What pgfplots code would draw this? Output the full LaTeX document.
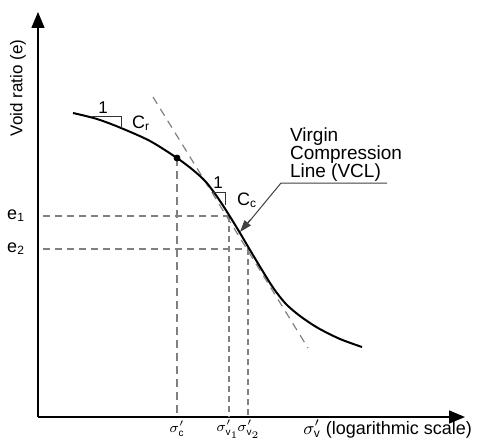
\documentclass[border=0pt]{standalone}
\usepackage{fontspec}
\setmainfont{Liberation Sans}
\usepackage{pgfplots}
\pgfplotsset{compat=1.18}
\usetikzlibrary{arrows.meta}
\definecolor{dgray}{HTML}{808080}
\begin{document}
\begin{tikzpicture}
\begin{axis}[
  x=0.5pt, y=0.5pt,
  xmin=0, xmax=427, ymin=0, ymax=405,
  axis lines=left,
  axis line style={line width=0.75pt, -{Triangle[length=8pt,width=6.5pt]}},
  xtick=\empty, ytick=\empty,
  clip=false,
  every node/.append style={inner sep=0pt},
]
% bounding box
\path (axis cs:-38,-23) rectangle (axis cs:442,417);
% tangent (VCL)
\addplot[dgray, line width=0.6pt, dash pattern=on 4pt off 3pt] coordinates {(115,320) (270,69)};
% guide lines
\addplot[dgray, line width=0.6pt, dash pattern=on 4pt off 2.5pt] coordinates {(139,259) (139,0)};
\addplot[dgray, line width=0.6pt, dash pattern=on 3.5pt off 2.5pt] coordinates {(5,201) (191,201)};
\addplot[dgray, line width=0.6pt, dash pattern=on 3pt off 2pt] coordinates {(191,201) (191,0)};
\addplot[dgray, line width=0.6pt, dash pattern=on 3.5pt off 2.5pt] coordinates {(5,168) (210,168)};
\addplot[dgray, line width=0.6pt, dash pattern=on 3pt off 2pt] coordinates {(210,168) (210,0)};
% compression curve
\addplot[black, line width=1pt, smooth, tension=0.5] coordinates {
(35,304) (59,298) (83,289) (112,276) (139,259) (155,247) (168,235) (180,219)
(191,202) (202,184) (212,167) (224,147) (236,128) (248,113) (262,101)
(280,89) (302,78) (324,70)};
% preconsolidation point
\addplot[only marks, mark=*, mark size=1.5pt, black] coordinates {(139,259)};
% Cr triangle
\addplot[black!80, line width=0.5pt] coordinates {(54,300) (83,300) (83,289)};
\node[font=\fontsize{8.5}{8.5}\selectfont] at (axis cs:65,309) {1};
\node[font=\fontsize{9}{9}\selectfont, anchor=west] at (axis cs:87,294) {C\textsubscript{r}};
% Cc triangle
\addplot[black!80, line width=0.5pt] coordinates {(174,225) (187,225) (187,212)};
\node[font=\fontsize{8.5}{8.5}\selectfont] at (axis cs:180,234) {1};
\node[font=\fontsize{9}{9}\selectfont, anchor=west] at (axis cs:192,217) {C\textsubscript{c}};
% leader line with arrow
\addplot[black!75, line width=0.5pt] coordinates {(349,234) (243,234) (210,194)};
\addplot[black!75, line width=0.5pt, -{Triangle[length=6pt,width=4pt]}] coordinates {(212,197) (202,185)};
\node[font=\fontsize{9.5}{9.5}\selectfont, anchor=west] at (axis cs:245,280) {Virgin};
\node[font=\fontsize{9.5}{9.5}\selectfont, anchor=west] at (axis cs:245,262) {Compression};
\node[font=\fontsize{9.5}{9.5}\selectfont, anchor=west] at (axis cs:245,244) {Line (VCL)};
% axis labels
\node[font=\fontsize{8.5}{8.5}\selectfont, rotate=90] at (axis cs:-20,329) {Void ratio (e)};
\node[font=\fontsize{9}{9}\selectfont, anchor=east] at (axis cs:-6,201) {e\textsubscript{1}};
\node[font=\fontsize{9}{9}\selectfont, anchor=east] at (axis cs:-6,168) {e\textsubscript{2}};
\node[font=\fontsize{7}{7}\selectfont] at (axis cs:139,-12) {$\sigma'_{\mathrm{c}}$};
\node[font=\fontsize{7}{7}\selectfont] at (axis cs:190,-12) {$\sigma'_{\mathrm{v}_1}$};
\node[font=\fontsize{7}{7}\selectfont] at (axis cs:211,-12) {$\sigma'_{\mathrm{v}_2}$};
\node[font=\fontsize{9}{9}\selectfont, anchor=east] at (axis cs:441,-12) {$\sigma'_{\mathrm{v}}$ (logarithmic scale)};
\end{axis}
\end{tikzpicture}
\end{document}
